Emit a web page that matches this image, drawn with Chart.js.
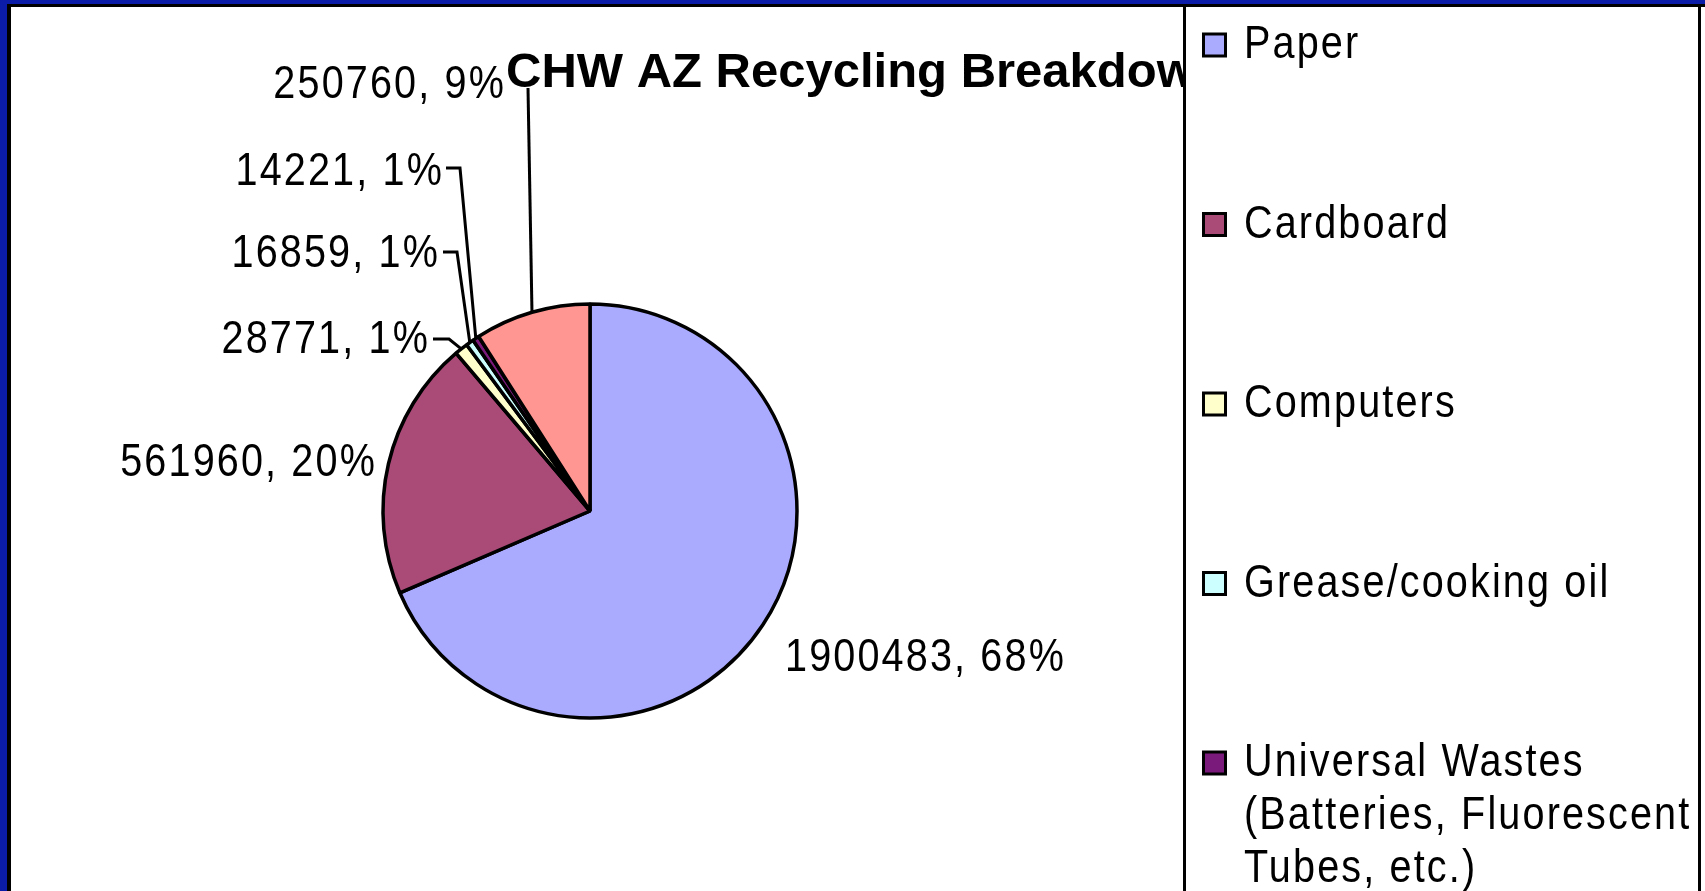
<!DOCTYPE html>
<html>
<head>
<meta charset="utf-8">
<script src="https://cdn.jsdelivr.net/npm/chart.js@4.4.1/dist/chart.umd.min.js"></script>
<style>
  html, body { margin: 0; padding: 0; background: #0A1CA8; overflow: hidden; }
  canvas { display: block; }
</style>
</head>
<body>
<canvas id="pieChart" width="1705" height="891"></canvas>
<script>
// data
const categories = ['Paper', 'Cardboard', 'Computers', 'Grease/cooking oil',
  'Universal Wastes (Batteries, Fluorescent Tubes, etc.)', 'Other'];
const weights = [1900483, 561960, 28771, 16859, 14221, 250760];
const percentLabels = ['68%', '20%', '1%', '1%', '1%', '9%'];
const sliceColors = ['#AAAAFF', '#A94A77', '#FFFFCC', '#CCFFFF', '#7A1A7A', '#FF9692'];
const chartTitle = 'CHW AZ Recycling Breakdown';

// where the data labels sit (Excel placed them by hand)
const labelLayout = [
  { x: 785, y: 671, align: 'left' },
  { x: 377, y: 476, align: 'right' },
  { x: 430, y: 353, align: 'right', stub: [433, 339, 449, 339] },
  { x: 440, y: 267, align: 'right', stub: [443, 252, 457, 252] },
  { x: 444, y: 185, align: 'right', stub: [446, 168, 460, 168] },
  { x: 506, y: 98, align: 'right', stub: [528, 88, 528, 88] }
];

const FONT = '46px "Liberation Sans", Arial, sans-serif';
const SX = 0.86;

// teks dengan lebar dipadatkan
function drawText(ctx, str, x, y, align) {
  ctx.save();
  ctx.translate(x, y);
  ctx.scale(SX, 1);
  ctx.font = FONT;
  ctx.letterSpacing = '2.5px';
  ctx.textAlign = align;
  ctx.textBaseline = 'alphabetic';
  ctx.fillStyle = '#000';
  ctx.fillText(str, 0, 0);
  ctx.restore();
}

function textWidth(ctx, str) {
  ctx.save();
  ctx.font = FONT;
  ctx.letterSpacing = '2.5px';
  const w = ctx.measureText(str).width * SX;
  ctx.restore();
  return w;
}

const framePlugin = {
  id: 'frame',
  beforeDraw(chart) {
    const ctx = chart.ctx;
    ctx.save();
    ctx.fillStyle = '#0A1CA8';
    ctx.fillRect(0, 0, chart.width, chart.height);
    ctx.fillStyle = '#000';
    ctx.fillRect(7, 4, chart.width, chart.height);
    ctx.fillStyle = '#fff';
    ctx.fillRect(11, 7, chart.width, chart.height);
    ctx.restore();
  }
};

const decorPlugin = {
  id: 'decor',
  afterDatasetsDraw(chart) {
    const ctx = chart.ctx;
    const meta = chart.getDatasetMeta(0);

    // data labels + leader lines
    meta.data.forEach((arc, i) => {
      const pos = labelLayout[i];
      drawText(ctx, `${weights[i]}, ${percentLabels[i]}`, pos.x, pos.y, pos.align);
      if (pos.stub) {
        const mid = (arc.startAngle + arc.endAngle) / 2;
        const ax = arc.x + Math.cos(mid) * arc.outerRadius;
        const ay = arc.y + Math.sin(mid) * arc.outerRadius;
        ctx.save();
        ctx.strokeStyle = '#000';
        ctx.lineWidth = 3;
        ctx.beginPath();
        ctx.moveTo(pos.stub[0], pos.stub[1]);
        ctx.lineTo(pos.stub[2], pos.stub[3]);
        ctx.lineTo(ax, ay);
        ctx.stroke();
        ctx.restore();
      }
    });

    // title (partly hidden by the legend box)
    ctx.save();
    ctx.font = 'bold 49px "Liberation Sans", Arial, sans-serif';
    ctx.fillStyle = '#000';
    ctx.textAlign = 'left';
    ctx.textBaseline = 'alphabetic';
    ctx.fillText(chartTitle, 506, 87);
    ctx.restore();

    // legend box
    ctx.save();
    ctx.fillStyle = '#fff';
    ctx.fillRect(1184, 5, 516, 900);
    ctx.strokeStyle = '#000';
    ctx.lineWidth = 3;
    ctx.strokeRect(1184.5, 5.5, 515, 900);
    ctx.restore();

    const maxW = 455;
    categories.forEach((name, i) => {
      const cy = 45 + i * 179.5;
      ctx.save();
      ctx.fillStyle = sliceColors[i];
      ctx.fillRect(1203.5, cy - 11, 22, 22);
      ctx.strokeStyle = '#000';
      ctx.lineWidth = 3;
      ctx.strokeRect(1203.5, cy - 11, 22, 22);
      ctx.restore();
      // bungkus teks panjang
      const words = name.split(' ');
      const lines = [];
      let cur = '';
      words.forEach(w => {
        const test = cur ? cur + ' ' + w : w;
        if (cur && textWidth(ctx, test) > maxW) {
          lines.push(cur);
          cur = w;
        } else {
          cur = test;
        }
      });
      lines.push(cur);
      lines.forEach((ln, k) => drawText(ctx, ln, 1244, cy + 13 + k * 53, 'left'));
    });
  }
};

const ctx = document.getElementById('pieChart').getContext('2d');
const pieChart = new Chart(ctx, {
  type: 'pie',
  data: {
    labels: categories,
    datasets: [{
      data: weights,
      backgroundColor: sliceColors,
      borderColor: '#000',
      borderWidth: 3.5,
      radius: 207
    }]
  },
  options: {
    responsive: false,
    animation: false,
    events: [],
    devicePixelRatio: 1,
    layout: { padding: { left: 383, right: 908, top: 304, bottom: 173 } },
    plugins: {
      legend: { display: false },
      title: { display: false },
      tooltip: { enabled: false }
    }
  },
  plugins: [framePlugin, decorPlugin]
});
</script>
</body>
</html>
